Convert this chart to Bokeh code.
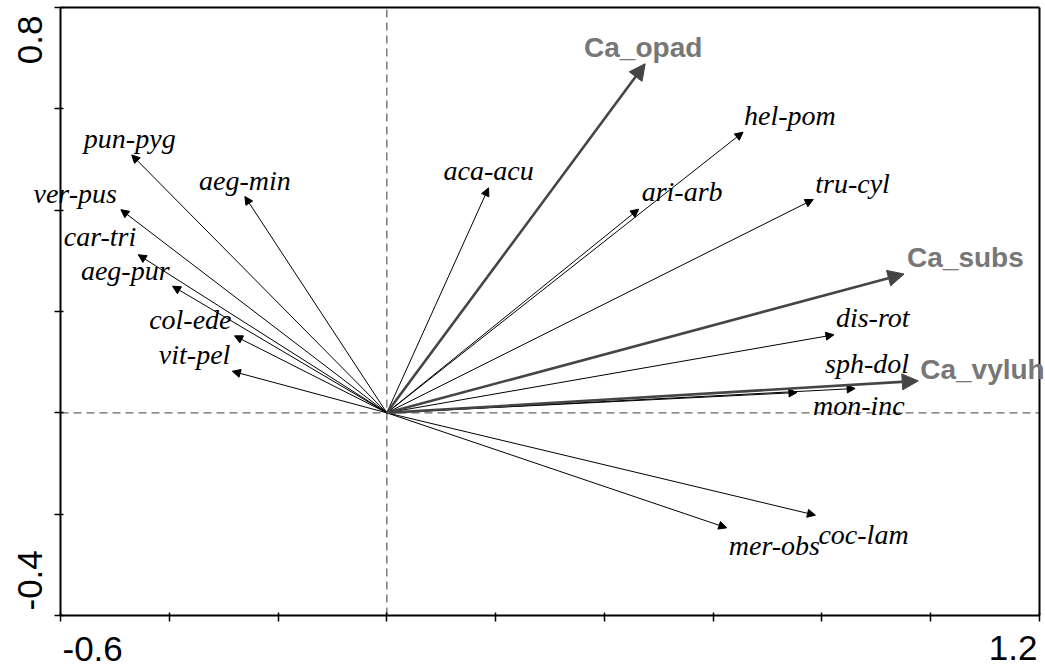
import math
from bokeh.plotting import figure
from bokeh.models import (Arrow, NormalHead, Label, FixedTicker, ColumnDataSource,
                          LinearAxis, Range1d)
from bokeh.embed import file_html
from bokeh.resources import INLINE

# ---- data ----
species = ["pun-pyg", "aeg-min", "ver-pus", "car-tri", "aeg-pur", "col-ede", "vit-pel",
           "aca-acu", "ari-arb", "hel-pom", "tru-cyl", "dis-rot", "sph-dol", "mon-inc",
           "mer-obs", "coc-lam"]
species_x = [-0.469, -0.261, -0.489, -0.457, -0.394, -0.280, -0.284,
             0.187, 0.463, 0.655, 0.784, 0.822, 0.861, 0.754,
             0.625, 0.788]
species_y = [0.509, 0.427, 0.401, 0.312, 0.250, 0.152, 0.082,
             0.444, 0.402, 0.554, 0.421, 0.154, 0.048, 0.040,
             -0.227, -0.202]

env = ["Ca_opad", "Ca_subs", "Ca_vyluh"]
env_x = [0.475, 0.951, 0.977]
env_y = [0.689, 0.274, 0.063]

x_ticks = [-0.6, -0.4, -0.2, 0.0, 0.2, 0.4, 0.6, 0.8, 1.0, 1.2]
y_ticks = [-0.4, -0.2, 0.0, 0.2, 0.4, 0.6, 0.8]
x_lim = (-0.6, 1.2)
y_lim = (-0.4, 0.8)

# ---- layout / style (pixels) ----
W, H = 1045, 667
box_left, box_right, box_top, box_bottom = 60, 1039, 7, 615

sp_align = ["center", "center", "right", "right", "right", "right", "right",
            "center", "left", "left", "left", "left", "left", "left",
            "left", "left"]
sp_dx = [-2, 0, -4, -2, -3, -3, -2, 0, 3, 1, 2, 2, -30, 16, 2, 3]
sp_dy = [16, 16, 16, 18, 16, 16, 17, 17, 18, 17, 16, 17, 25, -13, -18, -19]
env_align = ["center", "left", "left"]
env_dx = [-2, 3, 2]
env_dy = [16, 17, 11]

# ranges so that the data box sits at the given pixel box and the frame fills the canvas
xpp = (x_lim[1] - x_lim[0]) / (box_right - box_left)
ypp = (y_lim[1] - y_lim[0]) / (box_bottom - box_top)
x_range = Range1d(x_lim[0] - box_left * xpp, x_lim[1] + (W - box_right) * xpp)
y_range = Range1d(y_lim[0] - (H - box_bottom) * ypp, y_lim[1] + box_top * ypp)

p = figure(width=W, height=H, x_range=x_range, y_range=y_range,
           output_backend="svg", toolbar_location=None,
           x_axis_location=None, y_axis_location=None, min_border=0)
p.grid.visible = False
p.outline_line_color = None
p.background_fill_color = "white"
p.border_fill_color = "white"


def make_axis(loc, bounds, ticks):
    ax = LinearAxis(fixed_location=loc, bounds=bounds)
    ax.axis_line_width = 2
    ax.axis_line_color = "black"
    ax.minor_tick_line_color = None
    ax.major_label_text_color = None
    if ticks is None:
        ax.ticker = FixedTicker(ticks=[])
        ax.major_tick_line_color = None
    else:
        ax.ticker = FixedTicker(ticks=ticks)
        ax.major_tick_line_width = 1.5
        ax.major_tick_line_color = "black"
        ax.major_tick_in = 3
        ax.major_tick_out = 6
    return ax


p.add_layout(make_axis(y_lim[0], x_lim, x_ticks), "below")
p.add_layout(make_axis(x_lim[0], y_lim, y_ticks), "left")
p.add_layout(make_axis(y_lim[1], x_lim, None), "above")
p.add_layout(make_axis(x_lim[1], y_lim, None), "right")

# dashed zero lines inside the box
p.segment(x0=[x_lim[0], 0.0], y0=[0.0, y_lim[0]], x1=[x_lim[1], 0.0], y1=[0.0, y_lim[1]],
          line_color="#666666", line_width=1.3, line_dash="8 5")

# species arrows
sp_src = ColumnDataSource(dict(x0=[0.0] * len(species), y0=[0.0] * len(species), x1=species_x, y1=species_y))
p.add_layout(Arrow(source=sp_src, x_start="x0", y_start="y0", x_end="x1", y_end="y1",
                   line_color="black", line_width=1,
                   end=NormalHead(size=8, fill_color="black", line_color="black", line_width=1)))

# environmental arrows
env_src = ColumnDataSource(dict(x0=[0.0] * len(env), y0=[0.0] * len(env), x1=env_x, y1=env_y))
p.add_layout(Arrow(source=env_src, x_start="x0", y_start="y0", x_end="x1", y_end="y1",
                   line_color="#454545", line_width=2.6,
                   end=NormalHead(size=16, fill_color="#454545", line_color="#454545", line_width=1)))

for name, x, y, al, dx, dy in zip(species, species_x, species_y, sp_align, sp_dx, sp_dy):
    p.add_layout(Label(x=x, y=y, text=name, x_offset=dx, y_offset=dy, text_align=al,
                       text_baseline="alphabetic", text_font="Liberation Serif",
                       text_font_style="italic", text_font_size="28px", text_color="black"))

for name, x, y, al, dx, dy in zip(env, env_x, env_y, env_align, env_dx, env_dy):
    p.add_layout(Label(x=x, y=y, text=name, x_offset=dx, y_offset=dy, text_align=al,
                       text_baseline="alphabetic", text_font="Liberation Sans",
                       text_font_style="bold", text_font_size="28px", text_color="#777777"))

# tick labels at the range ends (placed like the original: aligned to the box corners)
tick_font = "Liberation Sans"
tick_size = "35px"
p.add_layout(Label(x=x_ticks[0], y=y_lim[0], text="%.1f" % x_ticks[0], x_offset=2, y_offset=-33,
                   text_align="left", text_baseline="alphabetic", text_font=tick_font,
                   text_font_size=tick_size, text_color="black"))
p.add_layout(Label(x=x_ticks[-1], y=y_lim[0], text="%.1f" % x_ticks[-1], x_offset=-2, y_offset=-32,
                   text_align="right", text_baseline="alphabetic", text_font=tick_font,
                   text_font_size=tick_size, text_color="black"))
p.add_layout(Label(x=x_lim[0], y=y_ticks[-1], text="%.1f" % y_ticks[-1], x_offset=-31, y_offset=-8,
                   angle=math.pi / 2, text_align="right", text_baseline="alphabetic", text_font=tick_font,
                   text_font_size=tick_size, text_color="black"))
p.add_layout(Label(x=x_lim[0], y=y_ticks[0], text="%.1f" % y_ticks[0], x_offset=-31, y_offset=5,
                   angle=math.pi / 2, text_align="left", text_baseline="alphabetic", text_font=tick_font,
                   text_font_size=tick_size, text_color="black"))

open("out.html", "w").write(file_html(p, INLINE))
